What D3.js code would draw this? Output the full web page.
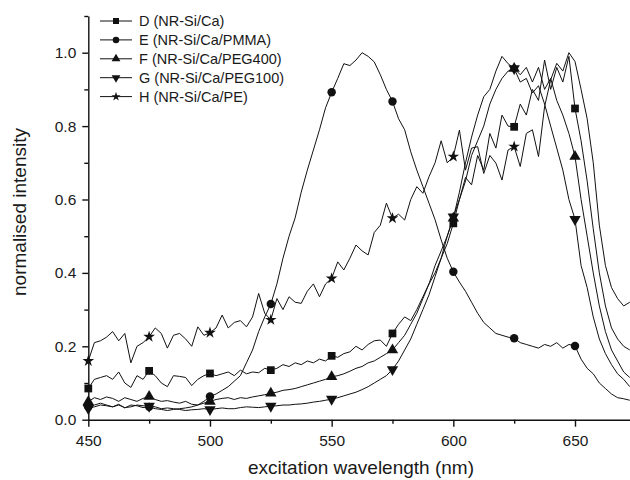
<!DOCTYPE html>
<html lang="en">
<head>
    <meta charset="UTF-8">
    <title>Excitation spectra</title>
    <script src="https://d3js.org/d3.v7.min.js"></script>
    <style>
        body, html {
            margin: 0;
            background-color: #ffffff;
            font-family: 'Liberation Sans', Arial, sans-serif;
        }
        .axis text {
            font-family: 'Liberation Sans', Arial, sans-serif;
            fill: #1a1a1a;
        }
        .axis path, .axis line {
            stroke: #111;
            stroke-width: 1.4px;
        }
    </style>
</head>
<body>
<div id="chart"></div>

<script>
    // wavelength grid (nm)
    const wavelength = [
        450, 452.5, 455, 457.5, 460, 462.5, 465, 467.5, 470, 472.5,
        475, 477.5, 480, 482.5, 485, 487.5, 490, 492.5, 495, 497.5,
        500, 502.5, 505, 507.5, 510, 512.5, 515, 517.5, 520, 522.5,
        525, 527.5, 530, 532.5, 535, 537.5, 540, 542.5, 545, 547.5,
        550, 552.5, 555, 557.5, 560, 562.5, 565, 567.5, 570, 572.5,
        575, 577.5, 580, 582.5, 585, 587.5, 590, 592.5, 595, 597.5,
        600, 602.5, 605, 607.5, 610, 612.5, 615, 617.5, 620, 622.5,
        625, 627.5, 630, 632.5, 635, 637.5, 640, 642.5, 645, 647.5,
        650, 652.5, 655, 657.5, 660, 662.5, 665, 667.5, 670, 672.5
    ];

    const seriesD = [
        0.085, 0.11, 0.115, 0.12, 0.11, 0.13, 0.1, 0.088, 0.12, 0.11,
        0.133, 0.12, 0.1, 0.09, 0.12, 0.118, 0.115, 0.093, 0.11, 0.12,
        0.126, 0.12, 0.125, 0.13, 0.12, 0.135, 0.125, 0.13, 0.128, 0.14,
        0.135, 0.14, 0.15, 0.145, 0.155, 0.15, 0.16, 0.155, 0.165, 0.16,
        0.174, 0.17, 0.18, 0.185, 0.2, 0.19, 0.205, 0.215, 0.217, 0.2,
        0.235, 0.26, 0.28, 0.27, 0.3, 0.335, 0.37, 0.4, 0.44, 0.48,
        0.535, 0.6, 0.66, 0.64, 0.72, 0.68, 0.78, 0.74, 0.83, 0.8,
        0.798, 0.86, 0.83, 0.9, 0.87, 0.98, 0.9, 0.96, 0.92, 0.99,
        0.848, 0.76, 0.65, 0.52, 0.4, 0.31, 0.25, 0.22, 0.2, 0.19
    ];

    const seriesE = [
        0.035, 0.04, 0.045, 0.04, 0.035, 0.042, 0.032, 0.04, 0.038, 0.033,
        0.035, 0.03, 0.028, 0.025, 0.028, 0.03, 0.032, 0.035, 0.04, 0.05,
        0.063, 0.07, 0.08, 0.09, 0.105, 0.12, 0.155, 0.19, 0.24, 0.28,
        0.315, 0.37, 0.44, 0.5, 0.55, 0.62, 0.68, 0.735, 0.79, 0.85,
        0.892, 0.93, 0.97, 0.965, 0.98, 1.0, 0.99, 0.975, 0.94, 0.9,
        0.867, 0.82, 0.79, 0.73, 0.68, 0.635, 0.59, 0.545, 0.49, 0.44,
        0.403, 0.375, 0.35, 0.32, 0.29, 0.265, 0.25, 0.235, 0.23, 0.225,
        0.222, 0.21, 0.205, 0.2, 0.195, 0.205, 0.2, 0.21, 0.195, 0.205,
        0.201, 0.165, 0.14, 0.125, 0.1, 0.085, 0.07, 0.06, 0.057, 0.053
    ];

    const seriesF = [
        0.049, 0.06, 0.055, 0.062, 0.058, 0.05, 0.06, 0.055, 0.05, 0.058,
        0.063, 0.055, 0.05, 0.052, 0.048, 0.045, 0.05, 0.042, 0.04, 0.045,
        0.05, 0.055, 0.058, 0.06, 0.055, 0.06, 0.058, 0.062, 0.065, 0.068,
        0.072, 0.075, 0.08, 0.082, 0.085, 0.09, 0.095, 0.1, 0.105, 0.11,
        0.117, 0.12, 0.125, 0.132, 0.14, 0.145, 0.155, 0.16, 0.17, 0.18,
        0.19, 0.21, 0.23, 0.26, 0.29, 0.33, 0.37, 0.42, 0.46, 0.5,
        0.549, 0.62, 0.7, 0.77, 0.83, 0.88, 0.9, 0.95, 0.99, 0.97,
        0.957, 0.94, 0.96, 0.92, 0.96, 0.9, 0.93, 0.87, 0.83, 0.78,
        0.717, 0.6, 0.5, 0.4, 0.31, 0.24, 0.19, 0.16, 0.13, 0.115
    ];

    const seriesG = [
        0.031, 0.035, 0.04, 0.038, 0.035, 0.04, 0.033, 0.035, 0.04, 0.038,
        0.037, 0.035, 0.03, 0.032, 0.03, 0.028, 0.025, 0.027, 0.028, 0.03,
        0.028, 0.03, 0.032, 0.03, 0.03, 0.033, 0.035, 0.034, 0.033, 0.035,
        0.037, 0.038, 0.04, 0.04, 0.042, 0.043, 0.045, 0.048, 0.05, 0.053,
        0.056, 0.06, 0.065, 0.07, 0.075, 0.082, 0.09, 0.1, 0.11, 0.12,
        0.137, 0.16, 0.19, 0.22, 0.26, 0.3, 0.34, 0.39, 0.44, 0.5,
        0.553, 0.6, 0.65, 0.72, 0.76, 0.8, 0.86, 0.9, 0.93, 0.95,
        0.957, 0.92, 0.93, 0.89, 0.91, 0.86, 0.8, 0.74, 0.68, 0.6,
        0.546, 0.42, 0.36, 0.28, 0.22, 0.18, 0.15, 0.125, 0.11, 0.09
    ];

    const seriesH = [
        0.16, 0.21, 0.215, 0.225, 0.24, 0.215, 0.235, 0.155, 0.2, 0.21,
        0.226, 0.25, 0.235, 0.195, 0.23, 0.235, 0.22, 0.2, 0.253, 0.23,
        0.237, 0.25, 0.285, 0.25, 0.265, 0.27, 0.253, 0.28, 0.344, 0.29,
        0.272, 0.33, 0.3, 0.335, 0.32, 0.317, 0.35, 0.37, 0.335, 0.37,
        0.385, 0.43, 0.408, 0.44, 0.476, 0.46, 0.449, 0.51, 0.53, 0.59,
        0.549, 0.56, 0.544, 0.6, 0.635, 0.617, 0.662, 0.7, 0.76, 0.7,
        0.717, 0.789, 0.68, 0.74, 0.744, 0.671, 0.72, 0.699, 0.653, 0.735,
        0.744, 0.69, 0.78, 0.79, 0.717, 0.853, 0.926, 0.971, 0.95, 1.0,
        0.976, 0.9, 0.82, 0.7, 0.53, 0.42, 0.36, 0.33, 0.31, 0.32
    ];

    const seriesNames = ['D (NR-Si/Ca)', 'E (NR-Si/Ca/PMMA)', 'F (NR-Si/Ca/PEG400)',
        'G (NR-Si/Ca/PEG100)', 'H (NR-Si/Ca/PE)'];

    // wavelengths that carry a symbol
    const markerX = [450, 475, 500, 525, 550, 575, 600, 625, 650];
    const markerXH = [450, 475, 500, 525, 550, 575, 600, 625];

    const xMajor = [450, 500, 550, 600, 650];
    const xMinor = [475, 525, 575, 625];
    const yMajor = [0, 0.2, 0.4, 0.6, 0.8, 1.0];
    const yMinor = [0.1, 0.3, 0.5, 0.7, 0.9, 1.1];

    const width = 630, height = 480;

    const svg = d3.select('#chart').append('svg')
        .attr('width', width)
        .attr('height', height);

    const x = d3.scaleLinear().domain([450, 672.6]).range([88.3, 630]);
    const y = d3.scaleLinear().domain([0, 1.1]).range([419.7, 16]);

    // axes
    const xAxisG = svg.append('g')
        .attr('class', 'axis')
        .attr('transform', `translate(0,${y(0)})`)
        .call(d3.axisBottom(x).tickValues(xMajor).tickSize(7).tickSizeOuter(0).tickPadding(8));
    xAxisG.selectAll('text').style('font-size', '15.5px');

    svg.append('g')
        .attr('class', 'axis')
        .attr('transform', `translate(0,${y(0)})`)
        .call(d3.axisBottom(x).tickValues(xMinor).tickSize(4).tickFormat(''))
        .select('.domain').remove();

    const yAxisG = svg.append('g')
        .attr('class', 'axis')
        .attr('transform', `translate(${x(450)},0)`)
        .call(d3.axisLeft(y).tickValues(yMajor).tickSize(6).tickSizeOuter(0).tickPadding(6)
            .tickFormat(d3.format('.1f')));
    yAxisG.selectAll('text').style('font-size', '15.5px');

    svg.append('g')
        .attr('class', 'axis')
        .attr('transform', `translate(${x(450)},0)`)
        .call(d3.axisLeft(y).tickValues(yMinor).tickSize(4).tickFormat(''))
        .select('.domain').remove();

    // axis titles
    svg.append('text')
        .attr('x', 361)
        .attr('y', 474)
        .attr('text-anchor', 'middle')
        .style('font-size', '19px')
        .style('fill', '#1a1a1a')
        .text('excitation wavelength (nm)');

    svg.append('text')
        .attr('transform', 'translate(19,212) rotate(-90)')
        .attr('text-anchor', 'middle')
        .attr('dy', '0.35em')
        .style('font-size', '19px')
        .style('fill', '#1a1a1a')
        .text('normalised intensity');

    // symbols
    const symbolFor = (i, size) => {
        const types = [d3.symbolSquare, d3.symbolCircle, d3.symbolTriangle, d3.symbolTriangle, d3.symbolStar];
        return d3.symbol().type(types[i]).size(size)();
    };
    const rotateFor = i => (i === 3 ? 180 : 0);
    const markSizes = [60, 56, 56, 56, 42];

    const allSeries = [seriesD, seriesE, seriesF, seriesG, seriesH];
    const marks = [markerX, markerX, markerX, markerX, markerXH];

    const line = d3.line()
        .x(d => x(d[0]))
        .y(d => y(d[1]));

    allSeries.forEach((vals, i) => {
        const pts = wavelength.map((w, k) => [w, vals[k]]);
        svg.append('path')
            .datum(pts)
            .attr('fill', 'none')
            .attr('stroke', '#111')
            .attr('stroke-width', 1)
            .attr('stroke-linejoin', 'round')
            .attr('d', line);

        const markPts = pts.filter(p => marks[i].includes(p[0]));
        svg.append('g').selectAll('path')
            .data(markPts)
            .join('path')
            .attr('d', symbolFor(i, markSizes[i]))
            .attr('transform', d => `translate(${x(d[0])},${y(d[1])}) rotate(${rotateFor(i)})`)
            .attr('fill', '#111');
    });

    // legend
    const legend = svg.append('g');
    seriesNames.forEach((name, i) => {
        const ly = 21 + i * 18.9;
        legend.append('line')
            .attr('x1', 100).attr('x2', 132)
            .attr('y1', ly).attr('y2', ly)
            .attr('stroke', '#111').attr('stroke-width', 1);
        legend.append('path')
            .attr('d', symbolFor(i, markSizes[i] * 0.6))
            .attr('transform', `translate(116,${ly}) rotate(${rotateFor(i)})`)
            .attr('fill', '#111');
        legend.append('text')
            .attr('x', 139)
            .attr('y', ly)
            .attr('dy', '0.35em')
            .style('font-size', '14.5px')
            .style('fill', '#1a1a1a')
            .text(name);
    });
</script>
</body>
</html>
